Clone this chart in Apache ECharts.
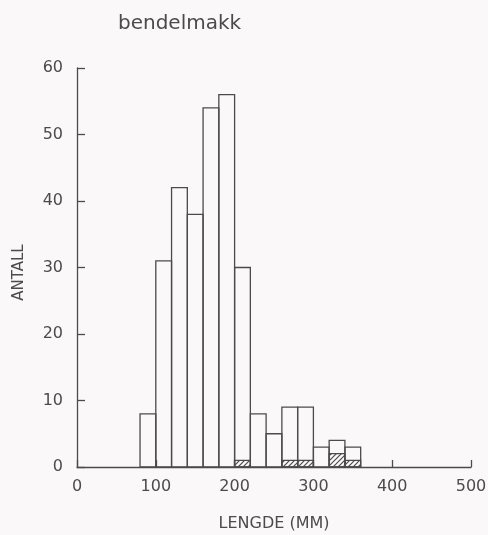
<!DOCTYPE html>
<html>
<head>
<meta charset="utf-8">
<script src="https://cdn.jsdelivr.net/npm/echarts@6/dist/echarts.min.js"></script>
<style>
  html, body { margin: 0; padding: 0; background: #fbf8fa; }
  #chart { width: 488px; height: 535px; }
</style>
</head>
<body>
<div id="chart"></div>
<script>
// Length classes (mm), 20 mm wide
const binLower = [80, 100, 120, 140, 160, 180, 200, 220, 240, 260, 280, 300, 320, 340];
const binUpper = [100, 120, 140, 160, 180, 200, 220, 240, 260, 280, 300, 320, 340, 360];
// Number of fish per length class
const antall = [8, 31, 42, 38, 54, 56, 30, 8, 5, 9, 9, 3, 4, 3];
// Hatched part of each column
const hatched = [0, 0, 0, 0, 0, 0, 1, 0, 0, 1, 1, 0, 2, 1];
// Axis ticks
const xTicks = [0, 100, 200, 300, 400, 500];
const yTicks = [0, 10, 20, 30, 40, 50, 60];

const ink = '#4d4a4c';
const font = 'DejaVu Sans';

// Diagonal hatch tile
const tile = document.createElement('canvas');
tile.width = 5; tile.height = 5;
const tctx = tile.getContext('2d');
tctx.strokeStyle = ink;
tctx.lineWidth = 1.2;
tctx.beginPath();
tctx.moveTo(-1, 6); tctx.lineTo(6, -1);
tctx.moveTo(-1, 1); tctx.lineTo(1, -1);
tctx.moveTo(4, 6); tctx.lineTo(6, 4);
tctx.stroke();
const hatchPattern = { image: tile, repeat: 'repeat' };

const columns = binLower.map((lo, i) => [lo, binUpper[i], antall[i]]);
const hatchCols = binLower.map((lo, i) => [lo, binUpper[i], hatched[i]]).filter(d => d[2] > 0);

function rectItem(fill) {
  return function (params, api) {
    const p0 = api.coord([api.value(0), 0]);
    const p1 = api.coord([api.value(1), api.value(2)]);
    return {
      type: 'rect',
      shape: { x: p0[0], y: p1[1], width: p1[0] - p0[0], height: p0[1] - p1[1] },
      style: { fill: fill, stroke: ink, lineWidth: 1.3 }
    };
  };
}

const chart = echarts.init(document.getElementById('chart'));
chart.setOption({
  backgroundColor: '#fbf8fa',
  animation: false,
  title: {
    text: 'bendelmakk',
    left: 113, top: 9,
    textStyle: { fontFamily: font, fontSize: 20, fontWeight: 'normal', color: ink }
  },
  grid: { left: 77, right: 17, top: 68, bottom: 68, outerBoundsMode: 'none', containLabel: false },
  xAxis: {
    type: 'value', min: xTicks[0], max: xTicks[xTicks.length - 1], interval: 100,
    name: 'LENGDE (MM)', nameLocation: 'middle', nameGap: 49,
    nameTextStyle: { fontFamily: font, fontSize: 16, color: ink },
    axisLine: { lineStyle: { color: ink, width: 1.3 } },
    axisTick: { inside: true, length: 7, lineStyle: { color: ink, width: 1.3 } },
    axisLabel: { fontFamily: font, fontSize: 16, color: ink, margin: 12 },
    splitLine: { show: false }
  },
  yAxis: {
    type: 'value', min: yTicks[0], max: yTicks[yTicks.length - 1], interval: 10,
    name: 'ANTALL', nameLocation: 'middle', nameGap: 50, nameRotate: 90,
    nameTextStyle: { fontFamily: font, fontSize: 15, color: ink, padding: [0, 0, 0, -10] },
    axisLine: { show: true, lineStyle: { color: ink, width: 1.3 } },
    axisTick: { show: true, inside: true, length: 8, lineStyle: { color: ink, width: 1.3 } },
    axisLabel: { fontFamily: font, fontSize: 16, color: ink, margin: 14 },
    splitLine: { show: false }
  },
  series: [
    {
      type: 'custom', renderItem: rectItem('none'),
      encode: { x: [0, 1], y: 2 }, data: columns, clip: false
    },
    {
      type: 'custom', renderItem: rectItem(hatchPattern),
      encode: { x: [0, 1], y: 2 }, data: hatchCols, clip: false
    }
  ]
});
</script>
</body>
</html>
